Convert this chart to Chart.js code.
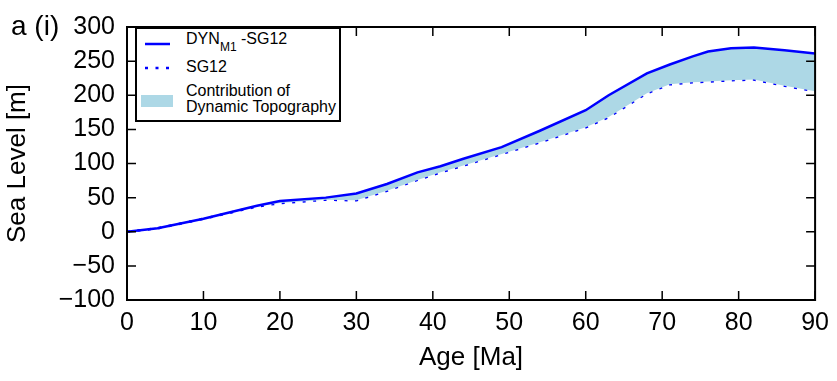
<!DOCTYPE html>
<html>
<head>
<meta charset="utf-8">
<script src="https://cdn.jsdelivr.net/npm/chart.js@4"></script>
<style>
    body { margin: 0; background: #fff; font-family: "Liberation Sans", Arial, sans-serif; }
    #wrap { position: relative; width: 837px; height: 381px; }
    .t { position: absolute; color: #000; white-space: nowrap; line-height: 1; }
    #legend { position: absolute; left: 135px; top: 27px; width: 202px; height: 91px;
        border: 2px solid #000; background: #fff; }
</style>
</head>
<body>
<div id="wrap">
    <canvas id="seaLevel" width="837" height="381"></canvas>
    <div class="t" style="left: 11px; top: 12px; font-size: 28px;">a (i)</div>
    <div id="legend">
        <svg width="202" height="91" style="position:absolute;left:0;top:0">
            <line x1="8" y1="15" x2="33" y2="15" stroke="#0000ff" stroke-width="2.5"/>
            <line x1="8" y1="39" x2="33" y2="39" stroke="#0000ff" stroke-width="2.5" stroke-dasharray="3 7.5"/>
            <rect x="4" y="66" width="32" height="12" fill="#add8e6"/>
        </svg>
        <span class="t" style="left: 49px; top: 2px; font-size: 16px;">DYN</span>
        <span class="t" style="left: 83px; top: 12px; font-size: 12px;">M1</span>
        <span class="t" style="left: 104px; top: 2px; font-size: 16px;">-SG12</span>
        <span class="t" style="left: 49px; top: 30px; font-size: 16px;">SG12</span>
        <span class="t" style="left: 49px; top: 54px; font-size: 16px;">Contribution of</span>
        <span class="t" style="left: 49px; top: 70px; font-size: 16px;">Dynamic Topography</span>
    </div>
</div>
<script>
const ages = [0, 4, 10, 17, 20, 26, 30, 34, 38, 41, 44, 49, 54, 60, 63, 68, 71, 74, 76, 79, 82, 86, 90];
const dynM1 = [0, 5, 19, 38, 45, 50, 56, 70, 87, 96, 107, 124, 148, 178, 200, 232, 245, 257, 264, 269, 270, 266, 261];
const sg12 = [0, 5, 19, 37, 42, 47, 46, 60, 76, 87, 97, 114, 131, 153, 168, 203, 216, 219, 220, 222, 223, 214, 206];
const xTicks = [0, 10, 20, 30, 40, 50, 60, 70, 80, 90];
const yTicks = [-100, -50, 0, 50, 100, 150, 200, 250, 300];

const FONT = "'Liberation Sans', Arial, sans-serif";
const BLUE = "#0000ff";

function toPoints(xs, ys) {
    return xs.map((x, i) => ({ x: x, y: ys[i] }));
}

// inward ticks on all four sides plus the frame, matplotlib style
const frameTicks = {
    id: "frameTicks",
    afterDraw(chart) {
        const { ctx, chartArea: a, scales } = chart;
        const len = 9;
        ctx.save();
        ctx.strokeStyle = "#000";
        ctx.lineWidth = 1.5;
        ctx.beginPath();
        scales.x.ticks.forEach((t) => {
            const px = scales.x.getPixelForValue(t.value);
            ctx.moveTo(px, a.bottom); ctx.lineTo(px, a.bottom - len);
            ctx.moveTo(px, a.top); ctx.lineTo(px, a.top + len);
        });
        scales.y.ticks.forEach((t) => {
            const py = scales.y.getPixelForValue(t.value);
            ctx.moveTo(a.left, py); ctx.lineTo(a.left + len, py);
            ctx.moveTo(a.right, py); ctx.lineTo(a.right - len, py);
        });
        ctx.stroke();
        ctx.lineWidth = 2;
        ctx.strokeRect(a.left, a.top, a.right - a.left, a.bottom - a.top);
        ctx.restore();
    }
};

new Chart(document.getElementById("seaLevel"), {
    type: "line",
    data: {
        datasets: [{
            label: "DYN M1-SG12",
            data: toPoints(ages, dynM1),
            borderColor: BLUE,
            borderWidth: 2.5,
            backgroundColor: "#add8e6",
            fill: "+1",
            pointRadius: 0,
            tension: 0,
        }, {
            label: "SG12",
            data: toPoints(ages, sg12),
            borderColor: BLUE,
            borderWidth: 2.5,
            borderDash: [3, 7.5],
            fill: false,
            pointRadius: 0,
            tension: 0,
        }],
    },
    options: {
        responsive: false,
        animation: false,
        layout: { padding: { top: 20, right: 19, left: 0, bottom: 0 } },
        plugins: {
            legend: { display: false },
            tooltip: { enabled: false },
        },
        scales: {
            x: {
                type: "linear",
                min: 0,
                max: 90,
                afterBuildTicks: (scale) => { scale.ticks = xTicks.map((v) => ({ value: v })); },
                afterFit: (scale) => { scale.height = 81; },
                grid: { display: false, drawTicks: false },
                border: { display: false },
                ticks: { color: "#000", padding: 8, maxRotation: 0, font: { family: FONT, size: 25 } },
                title: { display: true, text: "Age [Ma]", color: "#000", padding: { top: 0, bottom: 8 },
                    font: { family: FONT, size: 26 } },
            },
            y: {
                min: -100,
                max: 300,
                afterBuildTicks: (scale) => { scale.ticks = yTicks.map((v) => ({ value: v })); },
                afterFit: (scale) => { scale.width = 127; },
                grid: { display: false, drawTicks: false },
                border: { display: false },
                ticks: {
                    color: "#000", padding: 12, font: { family: FONT, size: 25 },
                    callback: (v) => (v < 0 ? "\u2212" + Math.abs(v) : String(v)),
                },
                title: { display: true, text: "Sea Level [m]", color: "#000", padding: { top: 2, bottom: 0 },
                    font: { family: FONT, size: 26 } },
            },
        },
    },
    plugins: [frameTicks],
});
</script>
</body>
</html>
